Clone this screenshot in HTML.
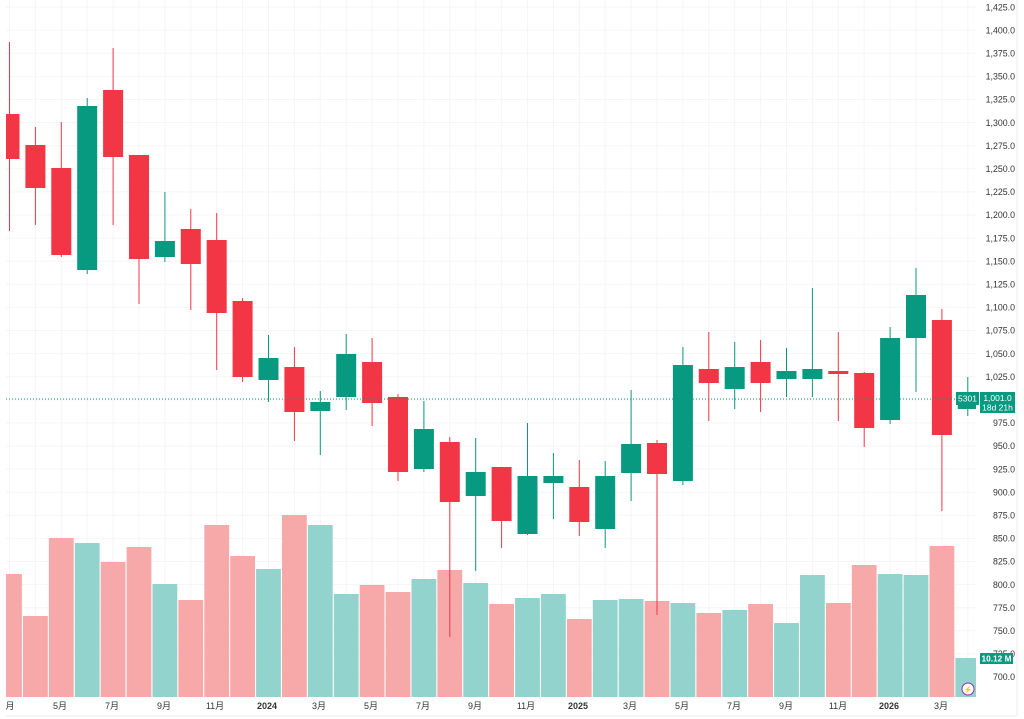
<!DOCTYPE html>
<html><head><meta charset="utf-8"><style>
html,body{margin:0;padding:0;background:#fff;}
svg{display:block;font-family:"Liberation Sans","Noto Sans CJK SC",sans-serif;}
</style></head><body>
<svg id="s" width="1024" height="719" xmlns="http://www.w3.org/2000/svg"></svg>
<script>
const s=document.getElementById('s');let h='<defs><clipPath id="cp"><rect x="6" y="0" width="970" height="697"/></clipPath></defs>';
const Y=p=>677-(p-700)*0.924;
let g='';
for(let p=700;p<=1425;p+=25){const y=Y(p);g+=`<line x1="0" x2="976" y1="${y}" y2="${y}" stroke="#f5f5f5"/>`;
h+=`<text x="1015" y="${y+3.2}" font-size="8.8" text-anchor="end" fill="#333">${p.toLocaleString('en-US')}.0</text>`;}
for(let i=0;i<38;i++){const x=9.5+25.9*i;g+=`<line x1="${x}" x2="${x}" y1="0" y2="697" stroke="#f5f5f5"/>`;}
const vol=[['r',574],['r',616],['r',538],['g',543],['r',562],['r',547],['g',584],['r',600],['r',525],['r',556],['g',569],['r',515],['g',525],['g',594],['r',585],['r',592],['g',579],['r',570],['g',583],['r',604],['g',598],['g',594],['r',619],['g',600],['g',599],['r',601],['g',603],['r',613],['g',610],['r',604],['g',623],['g',575],['r',603],['r',565],['g',574],['g',575],['r',546],['g',658]];
vol.forEach((v,i)=>{const x=9.5+25.9*i;g+=`<rect x="${x-12.4}" y="${v[1]}" width="24.8" height="${697-v[1]}" fill="${v[0]=='r'?'#f7a8a8':'#92d3cd'}"/>`;});
const c=[['r',114,159,42,231],['r',145,188,127,225],['r',168,255,122,257],['g',106,270,98,274],['r',90,157,48,225],['r',155,259,155,304],['g',241,257,192,262],['r',229,264,209,310],['r',240,313,213,370],['r',301,377,298,382],['g',358,380,335,402],['r',367,412,347,441],['g',402,411,391,455],['g',354,397,334,410],['r',362,403,338,426],['r',397,472,394,481],['g',429,469,401,472],['r',442,502,437,637],['g',472,496,438,571],['r',467,521,468,548],['g',476,534,423,535],['g',476,483,453,519],['r',487,522,460,536],['g',476,529,461,548],['g',444,473,390,501],['r',443,474,440,615],['g',365,481,347,485],['r',369,383,332,421],['g',367,389,342,409],['r',362,383,340,412],['g',371,379,348,397],['g',369,379,288,397],['r',371,374,332,421],['r',373,428,372,447],['g',338,420,327,424],['g',295,338,268,392],['r',320,435,309,511],['g',398,409,377,416]];
c.forEach((k,i)=>{const x=9.5+25.9*i;const col=k[0]=='r'?'#f23645':'#089981';
g+=`<line x1="${x}" x2="${x}" y1="${k[3]}" y2="${k[4]}" stroke="${col}" stroke-width="1"/>`;
g+=`<rect x="${x-10}" y="${k[1]}" width="20" height="${Math.max(2,k[2]-k[1])}" fill="${col}"/>`;});
g+=`<line x1="0" x2="976" y1="399" y2="399" stroke="#089981" stroke-dasharray="1,2"/>`;
h+=`<g clip-path="url(#cp)">${g}</g>`;
h+=`<rect x="956" y="392" width="23" height="13" fill="#089981"/><text x="967.5" y="401.5" font-size="8.5" text-anchor="middle" fill="#fff">5301</text>`;
h+=`<rect x="980" y="392" width="35" height="21" fill="#089981"/><text x="997.5" y="401" font-size="8.5" text-anchor="middle" fill="#fff">1,001.0</text><text x="997.5" y="410.5" font-size="8.5" text-anchor="middle" fill="#fff">18d 21h</text>`;
h+=`<rect x="980" y="653" width="33" height="11" fill="#089981"/><text x="996.5" y="661.5" font-size="8.3" text-anchor="middle" font-weight="bold" fill="#fff">10.12 M</text>`;
h+=`<circle cx="968" cy="689" r="6" fill="#fff" stroke="#9c27b0"/><text x="968" y="692" font-size="7" text-anchor="middle" fill="#9c27b0">⚡</text>`;
const L=[[10,'月'],[60,'5月'],[112,'7月'],[164,'9月'],[215,'11月'],[267,'2024',1],[319,'3月'],[371,'5月'],[423,'7月'],[475,'9月'],[526,'11月'],[578,'2025',1],[630,'3月'],[682,'5月'],[734,'7月'],[786,'9月'],[838,'11月'],[889,'2026',1],[941,'3月']];
L.forEach(l=>{h+=`<text x="${l[0]}" y="709" font-size="9" text-anchor="middle" fill="#333" ${l[2]?'font-weight="bold"':''}>${l[1]}</text>`;});
h+=`<line x1="6" x2="1017" y1="716" y2="716" stroke="#eee"/><line x1="1017" x2="1017" y1="0" y2="716" stroke="#eee"/>`;
s.innerHTML=h;
</script>
</body></html>
